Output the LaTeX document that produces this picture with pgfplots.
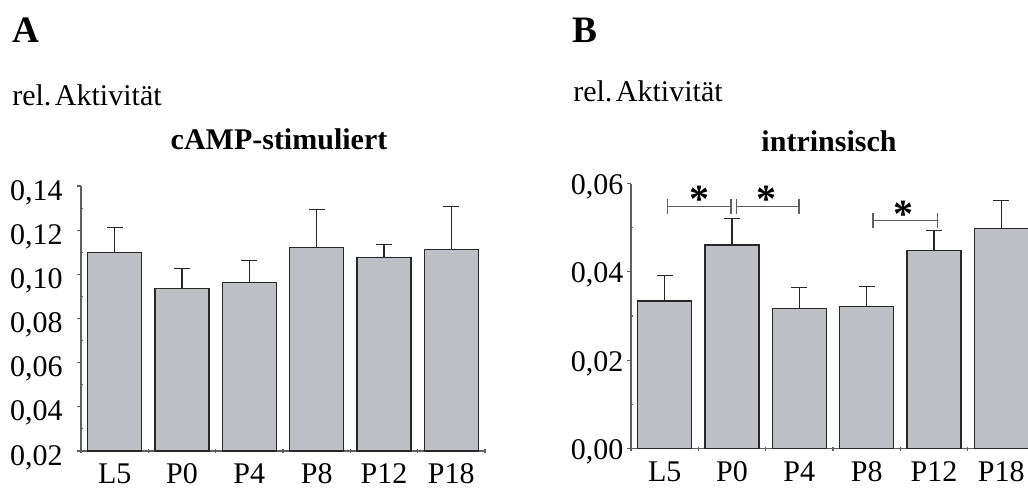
\documentclass[border=0pt]{standalone}
\usepackage{fontspec}
\setmainfont{Liberation Serif}
\usepackage{pgfplots}
\pgfplotsset{compat=1.18}
\definecolor{barfill}{RGB}{190,192,197}
\definecolor{bardraw}{RGB}{40,40,40}
\definecolor{axisgray}{RGB}{95,95,95}
\newcommand{\bigf}{\fontsize{22.5}{27}\selectfont}
\newcommand{\hugef}{\fontsize{28}{32}\selectfont}

\pgfplotstableread{
x y e
0 0.1099 0.0115
1 0.0936 0.0089
2 0.0962 0.0101
3 0.1123 0.0172
4 0.1078 0.0056
5 0.1114 0.0192
}\dataA
\pgfplotstableread{
x y e
0 0.0334 0.0058
1 0.0461 0.0059
2 0.0317 0.0048
3 0.0321 0.0045
4 0.0448 0.0045
5 0.0498 0.0063
}\dataB

\pgfplotsset{
  panel/.style={
    scale only axis, width=303pt, height=198.75pt,
    xmin=-0.5, xmax=5.5,
    axis x line*=bottom, axis y line*=left,
    axis line style={axisgray, line width=0.9pt},
    xtick={-0.5,0.5,1.5,2.5,3.5,4.5,5.5}, xticklabels={},
    extra x ticks={0,1,2,3,4,5},
    extra x tick labels={L5,P0,P4,P8,P12,P18},
    extra x tick style={major tick length=0pt},
    xtick align=center, ytick align=outside,
    major tick length=3pt, minor tick length=-1.5pt,
    minor y tick num=1,
    scaled y ticks=false,
    tick style={axisgray, line width=0.8pt},
    tick label style={font=\bigf},
    xticklabel style={anchor=base, inner sep=0pt, yshift=-24.5pt},
    yticklabel style={/pgf/number format/fixed, /pgf/number format/fixed zerofill, /pgf/number format/precision=2, /pgf/number format/use comma, /pgf/number format/assume math mode=true},
  },
  bars/.style={ybar, bar width=0.8, bar shift=0pt, fill=barfill, draw=bardraw, line width=0.9pt,
    error bars/.cd, y dir=plus, y explicit,
    error bar style={bardraw, line width=0.8pt},
    error mark options={rotate=90, mark size=6pt, line width=0.8pt, bardraw}},
}

\begin{document}
\begin{tikzpicture}[x=0.75pt, y=0.75pt]
\useasboundingbox (0,0) rectangle (1028,490);
\clip (0,0) rectangle (1028,490);

% Panel A
\node[anchor=base west, inner sep=0pt, font=\bfseries\hugef] at (12,447) {A};
\node[anchor=base west, inner sep=0pt, font=\bigf] at (12,384) {rel.\hspace{0.12em}Aktivität};
\node[anchor=base, inner sep=0pt, font=\bfseries\bigf] at (279,340) {cAMP-stimuliert};

\begin{axis}[panel, at={(60.75pt,29.25pt)}, anchor=south west,
  ymin=0.02, ymax=0.14, ytick={0.02,0.04,0.06,0.08,0.10,0.12,0.14},
  yticklabel style={anchor=base east, inner sep=0pt, xshift=-10.5pt, yshift=-10.5pt}]
\addplot[bars] table[x=x, y=y, y error=e] {\dataA};
\end{axis}

% Panel B
\node[anchor=base west, inner sep=0pt, font=\bfseries\hugef] at (572,447) {B};
\node[anchor=base west, inner sep=0pt, font=\bigf] at (573,388) {rel.\hspace{0.12em}Aktivität};
\node[anchor=base, inner sep=0pt, font=\bfseries\bigf] at (829,339) {intrinsisch};

\begin{axis}[panel, at={(473.25pt,31.125pt)}, anchor=south west,
  ymin=0, ymax=0.06, ytick={0,0.02,0.04,0.06},
  yticklabel style={anchor=base east, inner sep=0pt, xshift=-2.5pt, yshift=-8.25pt}]
\addplot[bars] table[x=x, y=y, y error=e] {\dataB};
% significance brackets
\draw[axisgray, line width=0.8pt] (axis cs:0.04,0.0547) -- (axis cs:0.985,0.0547);
\draw[axisgray, line width=0.8pt] (axis cs:0.04,0.0531) -- (axis cs:0.04,0.0565);
\draw[axisgray, line width=0.8pt] (axis cs:0.985,0.0531) -- (axis cs:0.985,0.0565);
\draw[axisgray, line width=0.8pt] (axis cs:1.07,0.0547) -- (axis cs:1.995,0.0547);
\draw[axisgray, line width=0.8pt] (axis cs:1.07,0.0531) -- (axis cs:1.07,0.0565);
\draw[axisgray, line width=0.8pt] (axis cs:1.995,0.0531) -- (axis cs:1.995,0.0565);
\draw[axisgray, line width=0.8pt] (axis cs:3.094,0.05155) -- (axis cs:4.045,0.05155);
\draw[axisgray, line width=0.8pt] (axis cs:3.094,0.0499) -- (axis cs:3.094,0.0534);
\draw[axisgray, line width=0.8pt] (axis cs:4.045,0.0499) -- (axis cs:4.045,0.0534);
\node[anchor=center, inner sep=0pt, font=\bfseries\fontsize{30}{34}\selectfont] at (axis cs:0.51,0.0565) {\raisebox{-0.22em}{*}};
\node[anchor=center, inner sep=0pt, font=\bfseries\fontsize{30}{34}\selectfont] at (axis cs:1.505,0.0565) {\raisebox{-0.22em}{*}};
\node[anchor=center, inner sep=0pt, font=\bfseries\fontsize{30}{34}\selectfont] at (axis cs:3.54,0.0531) {\raisebox{-0.22em}{*}};
\end{axis}
\end{tikzpicture}
\end{document}
